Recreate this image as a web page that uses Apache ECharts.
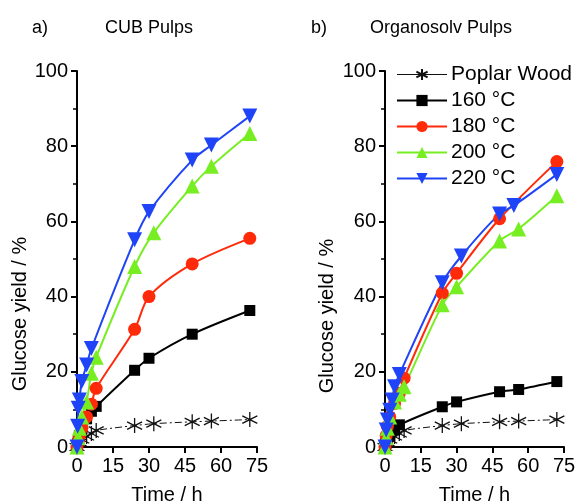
<!DOCTYPE html>
<html>
<head>
<meta charset="utf-8">
<script src="https://cdn.jsdelivr.net/npm/echarts@6/dist/echarts.min.js"></script>
<style>
  html, body { margin: 0; padding: 0; background: #fff; }
  #chart { width: 578px; height: 504px; }
</style>
</head>
<body>
<div id="chart"></div>
<script>
  // time (h) and glucose yield (%)
  const poplarTime = [0, 1, 2, 4, 6, 8, 24, 32, 48, 56, 72]
  const poplarYield = [0, 1.2, 2, 2.8, 3.6, 4.4, 5.7, 6.2, 6.7, 6.9, 7.3]

  // a) CUB pulps
  const cub160Time = [0, 0.5, 1, 2, 4, 6, 8, 24, 30, 48, 72]
  const cub160Yield = [0, 1.5, 3, 5, 7.5, 9.5, 10.8, 20.4, 23.6, 30, 36.3]
  const cub180Time = [0, 0.5, 1, 2, 4, 6, 8, 24, 30, 48, 72]
  const cub180Yield = [0, 1.5, 3, 5, 8, 11.4, 15.6, 31.3, 40, 48.7, 55.5]
  const cub200Time = [0, 0.5, 1, 2, 4, 6, 8, 24, 32, 48, 56, 72]
  const cub200Yield = [0, 2.5, 5, 8, 12, 19.6, 23.9, 48, 57, 69.4, 74.7, 83.4]
  const cub220Time = [0, 0.25, 0.5, 1, 2, 4, 6, 24, 30, 48, 56, 72]
  const cub220Yield = [0, 5.5, 10.3, 12.5, 17.4, 21.8, 26.2, 55.1, 62.6, 76.3, 80.3, 88]

  // b) Organosolv pulps
  const org160Time = [0, 0.5, 1, 2, 4, 6, 24, 30, 48, 56, 72]
  const org160Yield = [0, 1, 2, 3, 4.5, 5.9, 10.7, 12, 14.7, 15.3, 17.4]
  const org180Time = [0, 0.5, 1, 2, 4, 6, 8, 24, 30, 48, 72]
  const org180Yield = [0, 3, 5.5, 8, 11.6, 14.3, 18.3, 40.9, 46.2, 60.7, 75.9]
  const org200Time = [0, 0.5, 1, 2, 4, 6, 8, 24, 30, 48, 56, 72]
  const org200Yield = [0, 2.5, 5, 8, 12, 14, 16, 37.8, 42.6, 54.8, 58, 66.8]
  const org220Time = [0, 0.5, 1, 2, 3, 4, 6, 24, 32, 48, 54, 72]
  const org220Yield = [0, 4.5, 7.2, 9.8, 12.5, 16, 19.3, 43.7, 50.8, 62, 64.2, 72.5]

  const seriesNames = ['Poplar Wood', '160 °C', '180 °C', '200 °C', '220 °C']
  const panelTitles = ['CUB Pulps', 'Organosolv Pulps']

  const font = 'Liberation Sans, Arial, sans-serif'
  const asterisk = 'path://M0,-10L0,10M-8.66,-5L8.66,5M-8.66,5L8.66,-5'

  const zip = (t, y) => t.map((v, i) => [v, y[i]])

  const styles = [
    { color: '#111', symbol: asterisk, size: 15, width: 1, type: [7, 3, 2, 3] },
    { color: '#000', symbol: 'rect', size: 11, width: 2, type: 'solid' },
    { color: '#ff2a0a', symbol: 'circle', size: 13, width: 2, type: 'solid' },
    { color: '#77ee22', symbol: 'triangle', size: 15, width: 2, type: 'solid' },
    { color: '#1f44f8', symbol: 'path://M0,0L10,0L5,9Z', size: 15, width: 2, type: 'solid' }
  ]

  const panelData = [
    [zip(poplarTime, poplarYield), zip(cub160Time, cub160Yield), zip(cub180Time, cub180Yield),
      zip(cub200Time, cub200Yield), zip(cub220Time, cub220Yield)],
    [zip(poplarTime, poplarYield), zip(org160Time, org160Yield), zip(org180Time, org180Yield),
      zip(org200Time, org200Yield), zip(org220Time, org220Yield)]
  ]

  const series = []
  panelData.forEach((panel, p) => {
    panel.forEach((data, i) => {
      const s = styles[i]
      series.push({
        name: seriesNames[i],
        type: 'line',
        xAxisIndex: p,
        yAxisIndex: p,
        data: data,
        smooth: 0.3,
        clip: false,
        symbol: s.symbol,
        symbolSize: s.size,
        showAllSymbol: true,
        lineStyle: { color: s.color, width: s.width, type: s.type },
        itemStyle: { color: s.color, borderColor: s.color, borderWidth: i === 0 ? 1.3 : 0, opacity: 1 },
        emphasis: { disabled: true }
      })
    })
  })

  const axisCommon = {
    axisLine: { show: true, onZero: false, lineStyle: { color: '#000', width: 2 } },
    axisTick: { show: true, length: 6, lineStyle: { color: '#000', width: 2 } },
    splitLine: { show: false },
    axisLabel: { color: '#000', fontSize: 20, fontFamily: font, margin: 9 }
  }

  const xAxis = [0, 1].map(p => Object.assign({}, axisCommon, {
    type: 'value',
    gridIndex: p,
    min: 0,
    max: 75,
    interval: 15,
    name: 'Time / h',
    nameLocation: 'middle',
    nameGap: 38,
    nameTextStyle: { color: '#000', fontSize: 20, fontFamily: font }
  }))

  const yAxis = [0, 1].map(p => Object.assign({}, axisCommon, {
    type: 'value',
    gridIndex: p,
    min: 0,
    max: 100,
    interval: 20,
    minorTick: { show: true, splitNumber: 2, length: 4, lineStyle: { color: '#000', width: 1.5 } }
  }))

  const legendData = seriesNames.map((n, i) => ({
    name: n,
    lineStyle: { type: 'solid', width: i === 0 ? 1 : 2, color: styles[i].color }
  }))

  const chart = echarts.init(document.getElementById('chart'), null, { renderer: 'canvas' })
  chart.setOption({
    backgroundColor: '#fff',
    animation: false,
    grid: [
      { left: 77, top: 71, width: 180, height: 376, outerBoundsMode: 'none' },
      { left: 385, top: 71, width: 179, height: 376, outerBoundsMode: 'none' }
    ],
    title: [
      { text: 'a)', left: 27, top: 14, textStyle: { color: '#000', fontSize: 18, fontWeight: 'normal', fontFamily: font } },
      { text: panelTitles[0], left: 100, top: 14, textStyle: { color: '#000', fontSize: 18, fontWeight: 'normal', fontFamily: font } },
      { text: 'b)', left: 306, top: 14, textStyle: { color: '#000', fontSize: 18, fontWeight: 'normal', fontFamily: font } },
      { text: panelTitles[1], left: 365, top: 14, textStyle: { color: '#000', fontSize: 18, fontWeight: 'normal', fontFamily: font } }
    ],
    legend: {
      data: legendData,
      orient: 'vertical',
      left: 391,
      top: 59,
      itemWidth: 50,
      itemHeight: 14,
      itemGap: 5,
      selectedMode: false,
      textStyle: { color: '#000', fontSize: 21, fontFamily: font, padding: [0, 0, 0, -1] }
    },
    graphic: [
      { type: 'text', x: 20, y: 314, rotation: Math.PI / 2,
        style: { text: 'Glucose yield / %', align: 'center', verticalAlign: 'middle', fill: '#000', font: '20px ' + font } },
      { type: 'text', x: 327, y: 316, rotation: Math.PI / 2,
        style: { text: 'Glucose yield / %', align: 'center', verticalAlign: 'middle', fill: '#000', font: '20px ' + font } }
    ],
    xAxis: xAxis,
    yAxis: yAxis,
    series: series
  })
</script>
</body>
</html>
